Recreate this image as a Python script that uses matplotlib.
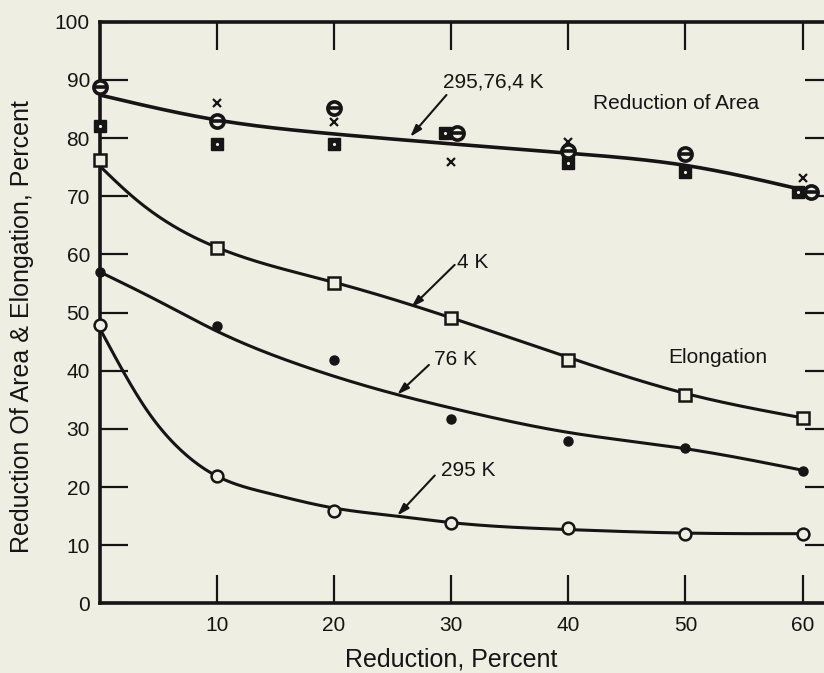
import numpy as np
import matplotlib
matplotlib.use("Agg")
import matplotlib.pyplot as plt

plt.rcParams['font.family'] = ['Liberation Sans', 'DejaVu Sans']

BG = '#efeee3'
INK = '#151515'

# ---- measured data -------------------------------------------------------
reduction = [0, 10, 20, 30, 40, 50, 60]

# Elongation, percent
elong_4k = [76.2, 61.1, 55.1, 49.1, 41.9, 35.9, 31.9]
elong_76k = [57.0, 47.7, 41.9, 31.7, 27.9, 26.7, 22.7]
elong_295k = [47.9, 21.9, 15.9, 13.9, 12.9, 12.0, 12.0]

# Reduction of area, percent
ra_295k_x = [0, 10, 20, 30.5, 40, 50, 60.7]
ra_295k = [88.8, 83.0, 85.1, 80.8, 77.7, 77.3, 70.8]
ra_76k_x = [10, 20, 30, 40, 60]
ra_76k = [86.1, 82.8, 75.8, 79.4, 73.1]
ra_4k_x = [0, 10, 20, 29.5, 40, 50, 59.6]
ra_4k = [82.0, 79.0, 79.0, 80.8, 75.7, 74.2, 70.8]

# Hand-faired curves (knots along each drawn curve)
fit_ra_x = [0, 10, 20, 30, 40, 50, 60]
fit_ra_y = [87.4, 83.1, 80.7, 79.0, 77.4, 75.3, 71.1]
fit_4k_x = [0, 3, 10, 20, 30, 40, 50, 60]
fit_4k_y = [75.2, 69.6, 61.2, 55.2, 49.1, 42.3, 36.1, 31.9]
fit_76k_x = [0, 5, 10, 17.1, 25.4, 30, 40, 50, 60]
fit_76k_y = [57.0, 52.0, 46.8, 41.0, 35.9, 33.6, 29.4, 26.6, 22.9]
fit_295k_x = [0, 2, 4, 6.9, 9.9, 14.3, 20, 25.4, 30, 40, 50, 60]
fit_295k_y = [47.3, 39.9, 33.3, 26.4, 22.0, 19.0, 16.4, 15.0, 13.9, 12.7, 12.1, 12.0]

x_ticks = [10, 20, 30, 40, 50, 60]
y_ticks = [0, 10, 20, 30, 40, 50, 60, 70, 80, 90, 100]


def natural_spline(xk, yk, xs):
    """Natural cubic spline through the knots, evaluated at xs."""
    xk = np.asarray(xk, float)
    yk = np.asarray(yk, float)
    n = len(xk)
    h = np.diff(xk)
    A = np.zeros((n, n))
    r = np.zeros(n)
    A[0, 0] = A[-1, -1] = 1.0
    for i in range(1, n - 1):
        A[i, i - 1] = h[i - 1]
        A[i, i] = 2 * (h[i - 1] + h[i])
        A[i, i + 1] = h[i]
        r[i] = 6 * ((yk[i + 1] - yk[i]) / h[i] - (yk[i] - yk[i - 1]) / h[i - 1])
    M = np.linalg.solve(A, r)
    idx = np.clip(np.searchsorted(xk, xs) - 1, 0, n - 2)
    x0, x1 = xk[idx], xk[idx + 1]
    hh = h[idx]
    a = (x1 - xs) / hh
    b = (xs - x0) / hh
    return (a * yk[idx] + b * yk[idx + 1]
            + ((a**3 - a) * M[idx] + (b**3 - b) * M[idx + 1]) * hh**2 / 6)


fig = plt.figure(figsize=(8.24, 6.73), dpi=100, facecolor=BG)
ax = fig.add_axes([0.121, 0.1033, 0.890, 0.8645], facecolor=BG)

# faired curves
for kx, ky, lw in [(fit_ra_x, fit_ra_y, 2.6), (fit_4k_x, fit_4k_y, 2.2),
                   (fit_76k_x, fit_76k_y, 2.2), (fit_295k_x, fit_295k_y, 2.2)]:
    xs = np.linspace(kx[0], kx[-1], 500)
    ax.plot(xs, natural_spline(kx, ky, xs), color=INK, lw=lw, zorder=2,
            solid_capstyle='round')

# elongation symbols
ax.plot(reduction, elong_4k, ls='none', marker='s', ms=8, mfc=BG,
        mec=INK, mew=1.8, zorder=4, clip_on=False)
ax.plot(reduction, elong_76k, ls='none', marker='o', ms=6.5, mfc=INK,
        mec=INK, zorder=4, clip_on=False)
ax.plot(reduction, elong_295k, ls='none', marker='o', ms=8.5, mfc=BG,
        mec=INK, mew=1.8, zorder=4, clip_on=False)

# reduction of area symbols
ax.plot(ra_4k_x, ra_4k, ls='none', marker='s', ms=8.5, mfc=INK,
        mec=INK, zorder=4, clip_on=False)
ax.plot(ra_4k_x, ra_4k, ls='none', marker='.', ms=2.5, color=BG,
        zorder=5, clip_on=False)
ax.plot(ra_295k_x, ra_295k, ls='none', marker='o', ms=9.5, mfc=BG,
        mec=INK, mew=2.6, zorder=5, clip_on=False)
ax.plot(ra_295k_x, ra_295k, ls='none', marker='_', ms=9, mec=INK,
        mew=2.6, zorder=6, clip_on=False)
ax.plot(ra_76k_x, ra_76k, ls='none', marker='x', ms=5.5, mec=INK,
        mew=1.6, zorder=5, clip_on=False)

# curve labels with leader arrows
arrow = dict(arrowstyle='-|>,head_length=0.7,head_width=0.22',
             color=INK, lw=1.5, shrinkA=0, shrinkB=0)
labels = [("295,76,4 K", (29.3, 89.6), (29.6, 87.4), (26.5, 80.2)),
          ("4 K", (30.5, 58.6), (30.3, 58.2), (26.6, 50.9)),
          ("76 K", (28.5, 41.9), (28.1, 41.0), (25.4, 35.9)),
          ("295 K", (29.1, 22.9), (28.6, 22.0), (25.4, 15.1))]
for txt, tpos, tail, tip in labels:
    ax.text(*tpos, txt, fontsize=15, color=INK, ha='left', va='center')
    ax.annotate('', xy=tip, xytext=tail, arrowprops=arrow)

ax.text(42.1, 85.9, "Reduction of Area", fontsize=15, color=INK,
        ha='left', va='center')
ax.text(48.5, 42.2, "Elongation", fontsize=15, color=INK,
        ha='left', va='center')

# axes, ticks, labels
ax.set_xlim(0, 62.6)
ax.set_ylim(0, 100)
ax.set_xticks(x_ticks)
ax.set_yticks(y_ticks)
ax.tick_params(direction='in', length=20, width=1.6, color=INK,
               labelsize=15, labelcolor=INK, top=True, right=True)
ax.tick_params(axis='x', pad=9)
ax.tick_params(axis='y', pad=7)
for sp in ax.spines.values():
    sp.set_linewidth(2.6)
    sp.set_color(INK)

fig.text(451 / 824, 1 - 660 / 673, "Reduction, Percent", fontsize=18,
         color=INK, ha='center', va='center')
fig.text(22 / 824, 1 - 327 / 673, "Reduction Of Area & Elongation, Percent",
         fontsize=18, color=INK, ha='center', va='center', rotation=90)

fig.savefig("out.png", dpi=100, facecolor=BG)
